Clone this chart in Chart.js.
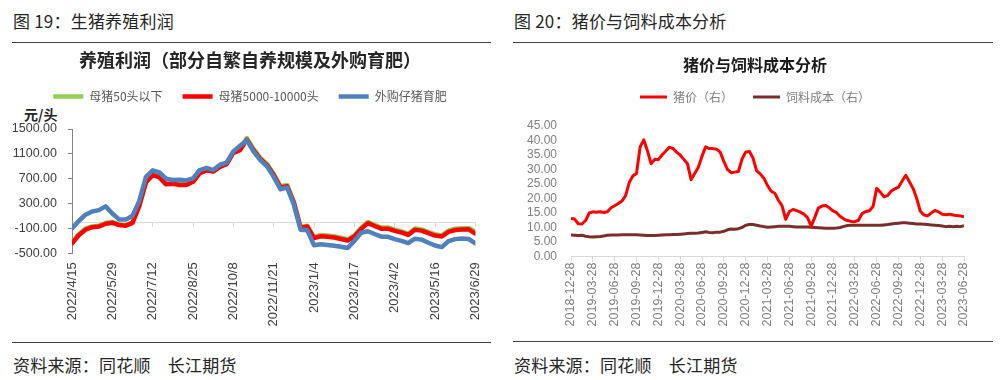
<!DOCTYPE html>
<html><head><meta charset="utf-8">
<script src="https://cdn.jsdelivr.net/npm/chart.js@4.4.0/dist/chart.umd.min.js"></script>
<style>
body{margin:0;background:#fff;width:1000px;height:380px;position:relative;overflow:hidden;font-family:'Noto Sans CJK SC',sans-serif;}
.hdr{position:absolute;font-size:17px;color:#262626;line-height:20px;white-space:nowrap;letter-spacing:0.2px;}
.rule{position:absolute;height:1px;background:#404040;}
canvas{position:absolute;}
</style></head><body>
<div class="hdr" style="left:13px;top:11px">图 19：生猪养殖利润</div>
<div class="hdr" style="left:514px;top:11px">图 20：猪价与饲料成本分析</div>
<div class="rule" style="left:12px;top:42px;width:479px"></div>
<div class="rule" style="left:513px;top:42px;width:480px"></div>
<div class="hdr" style="left:24px;top:104px;font-size:14px;font-weight:bold;letter-spacing:0">元/头</div>
<canvas id="c1" width="500" height="295" style="left:0;top:45px"></canvas>
<canvas id="c2" width="500" height="295" style="left:500px;top:45px"></canvas>
<div class="rule" style="left:12px;top:342px;width:479px"></div>
<div class="rule" style="left:513px;top:341px;width:480px"></div>
<div class="hdr" style="left:13px;top:355px">资料来源：同花顺　长江期货</div>
<div class="hdr" style="left:514px;top:355px">资料来源：同花顺　长江期货</div>
<script>
// ---------- Left chart data ----------
const leftTickLabels = ['2022/4/15','2022/5/29','2022/7/12','2022/8/25','2022/10/8','2022/11/21','2023/1/4','2023/2/17','2023/4/2','2023/5/16','2023/6/29'];
const sowSmall = [-330,-195,-105,-68,-55,-12,5,-35,-45,0,270,650,770,730,620,630,610,610,660,800,845,825,900,950,1130,1175,1355,1180,1040,940,780,580,600,330,-75,-55,-235,-205,-215,-225,-250,-275,-210,-90,5,-40,-85,-85,-120,-145,-185,-100,-115,-155,-195,-210,-135,-105,-98,-95,-150];
const sowLarge = [-340,-210,-120,-80,-70,-25,-8,-45,-55,-10,260,640,760,720,610,620,600,600,650,790,835,815,890,935,1115,1160,1330,1160,1020,920,760,560,580,310,-90,-70,-255,-225,-235,-245,-270,-295,-230,-110,-15,-60,-104,-104,-140,-165,-205,-120,-135,-175,-215,-230,-155,-125,-118,-115,-185];
const purchased = [-100,20,120,172,195,255,140,45,42,105,340,730,835,800,700,680,685,672,705,840,875,840,925,960,1140,1230,1320,1140,1000,900,730,530,560,280,-120,-130,-370,-355,-365,-380,-395,-415,-300,-170,-145,-190,-233,-235,-272,-300,-335,-265,-280,-330,-375,-400,-305,-272,-262,-270,-340];
const leftSeriesNames = ['母猪50头以下','母猪5000-10000头','外购仔猪育肥'];

// ---------- Right chart data ----------
const rightTickLabels = ['2018-12-28','2019-03-28','2019-06-28','2019-09-28','2019-12-28','2020-03-28','2020-06-28','2020-09-28','2020-12-28','2021-03-28','2021-06-28','2021-09-28','2021-12-28','2022-03-28','2022-06-28','2022-09-28','2022-12-28','2023-03-28','2023-06-28'];
const hogPrice = [13.1,12.9,11.3,11.2,12.4,15.0,15.4,15.3,15.4,15.2,15.4,16.8,17.5,18.3,19.1,21.0,25.5,27.8,28.6,37.8,40.2,36.5,32.0,33.5,33.4,35.0,36.3,37.7,37.3,36.0,35.0,33.5,32.0,26.5,28.6,30.8,34.6,37.8,37.2,37.2,37.0,36.0,32.8,30.0,28.9,29.1,29.3,33.6,36.0,36.3,34.0,29.6,28.5,27.0,24.5,22.5,21.8,19.4,17.5,12.8,15.5,16.2,15.8,15.3,14.6,13.4,10.5,13.5,16.8,17.4,17.6,16.8,15.7,15.1,13.8,12.9,12.4,12.1,12.0,12.5,14.8,15.5,15.8,17.2,23.5,22.2,20.6,21.0,22.6,23.3,23.9,26.0,28.0,25.8,23.5,20.0,15.6,14.3,14.0,15.0,15.9,15.4,14.6,14.4,14.6,14.3,14.1,14.0,13.7];
const feedCost = [7.4,7.3,7.2,7.3,7.0,6.8,6.7,6.8,6.9,7.1,7.3,7.4,7.4,7.4,7.5,7.5,7.5,7.5,7.5,7.4,7.3,7.2,7.2,7.2,7.3,7.4,7.5,7.5,7.6,7.6,7.7,7.8,7.9,8.0,8.0,8.1,8.3,8.5,8.3,8.2,8.4,8.4,8.7,9.2,9.5,9.4,9.6,10.0,10.8,11.0,11.0,10.8,10.5,10.3,10.1,10.2,10.3,10.4,10.4,10.4,10.4,10.3,10.2,10.2,10.2,10.2,10.1,10.0,9.9,9.8,9.7,9.7,9.7,9.8,10.0,10.4,10.7,10.8,10.8,10.8,10.8,10.8,10.8,10.8,10.8,10.8,10.9,11.0,11.2,11.4,11.5,11.6,11.6,11.5,11.4,11.2,11.2,11.1,11.0,10.9,10.8,10.7,10.5,10.3,10.4,10.3,10.4,10.3,10.6];
const rightSeriesNames = ['猪价（右）','饲料成本（右）'];

const POINTS_PER_TICK = 6;
const toXY = arr => arr.map((v, i) => ({x: i, y: v}));

Chart.defaults.font.family = "'Liberation Sans', 'Noto Sans CJK SC', sans-serif";
Chart.defaults.animation = false;

const legendGap = {
  id: 'legendGap',
  beforeInit(chart, args, opts) {
    const legend = chart.legend;
    const orig = legend.fit;
    legend.fit = function () { orig.call(this); this.height += (opts.extra || 0); };
  }
};

// ---------- Left chart ----------
new Chart(document.getElementById('c1'), {
  type: 'line',
  data: {
    datasets: [
      {label: leftSeriesNames[2], data: toXY(purchased), borderColor: '#4F81BD', backgroundColor: '#4F81BD', borderWidth: 4.5},
      {label: leftSeriesNames[1], data: toXY(sowLarge), borderColor: '#FF0000', backgroundColor: '#FF0000', borderWidth: 4.5},
      {label: leftSeriesNames[0], data: toXY(sowSmall), borderColor: '#92D050', backgroundColor: '#92D050', borderWidth: 4.5}
    ]
  },
  options: {
    responsive: false, devicePixelRatio: 1,
    elements: {point: {radius: 0}, line: {tension: 0, borderJoinStyle: 'round', borderCapStyle: 'round'}},
    layout: {padding: {left: 13, right: 13, top: 0, bottom: 0}},
    plugins: {
      tooltip: {enabled: false},
      title: {display: true, text: '养殖利润（部分自繁自养规模及外购育肥）', color: '#262626',
        font: {family: "'Noto Sans CJK SC', sans-serif", size: 18, weight: 'bold', lineHeight: 1.2},
        padding: {top: 4, bottom: 0}},
      legend: {display: true, reverse: true,
        labels: {usePointStyle: true, pointStyle: 'line', pointStyleWidth: 30, padding: 20, color: '#595959',
          font: {family: "'Noto Sans CJK SC', sans-serif", size: 12}}},
      legendGap: {extra: 16.4}
    },
    scales: {
      x: {type: 'linear', position: 'bottom', min: 0, max: (leftTickLabels.length - 1) * POINTS_PER_TICK,
        border: {display: false}, grid: {display: false, drawTicks: false},
        ticks: {stepSize: POINTS_PER_TICK, autoSkip: false, maxRotation: 90, minRotation: 90, padding: 9,
          color: '#404040', font: {size: 13},
          callback: v => leftTickLabels[Math.round(v / POINTS_PER_TICK)]},
        afterFit: s => { s.height = 86.7; }},
      x0: {type: 'linear', axis: 'x', position: {y: 0}, min: 0, max: (leftTickLabels.length - 1) * POINTS_PER_TICK,
        border: {display: true, color: '#d9d9d9'},
        grid: {display: true, drawOnChartArea: false, drawTicks: true, tickLength: 4, color: '#d9d9d9'},
        ticks: {stepSize: POINTS_PER_TICK, display: false}},
      y: {type: 'linear', position: 'left', min: -500, max: 1500,
        border: {display: true, color: '#868686'},
        grid: {display: true, drawOnChartArea: false, drawTicks: true, tickLength: 4, color: '#868686'},
        ticks: {stepSize: 400, autoSkip: false, padding: 11, color: '#404040', font: {size: 12.5}, callback: v => v.toFixed(2)},
        afterFit: s => { s.width = 59; }}
    }
  },
  plugins: [legendGap]
});

// ---------- Right chart ----------
new Chart(document.getElementById('c2'), {
  type: 'line',
  data: {
    datasets: [
      {label: rightSeriesNames[0], data: toXY(hogPrice), borderColor: '#FF0000', backgroundColor: '#FF0000', borderWidth: 3},
      {label: rightSeriesNames[1], data: toXY(feedCost), borderColor: '#7A2E2B', backgroundColor: '#7A2E2B', borderWidth: 3}
    ]
  },
  options: {
    responsive: false, devicePixelRatio: 1,
    elements: {point: {radius: 0}, line: {tension: 0, borderJoinStyle: 'round'}},
    layout: {padding: {left: 46, right: 36, top: 0, bottom: 0}},
    plugins: {
      tooltip: {enabled: false},
      title: {display: true, text: '猪价与饲料成本分析', color: '#1a1a1a',
        font: {family: "'Noto Sans CJK SC', sans-serif", size: 16, weight: 'bold', lineHeight: 0.75},
        padding: {top: 14, bottom: 0}},
      legend: {display: true,
        labels: {usePointStyle: true, pointStyle: 'line', pointStyleWidth: 27, padding: 20, color: '#7f7f7f',
          font: {family: "'Noto Sans CJK SC', sans-serif", size: 12}}},
      legendGap: {extra: 13}
    },
    scales: {
      x: {type: 'linear', position: 'bottom', min: 0, max: (rightTickLabels.length - 1) * POINTS_PER_TICK,
        border: {display: true, color: '#d9d9d9'},
        grid: {display: true, drawOnChartArea: false, drawTicks: true, tickLength: 5, color: '#d9d9d9'},
        ticks: {stepSize: POINTS_PER_TICK, autoSkip: false, maxRotation: 90, minRotation: 90, padding: 1,
          color: '#808080', font: {size: 12.5},
          callback: v => rightTickLabels[Math.round(v / POINTS_PER_TICK)]},
        afterFit: s => { s.height = 83.5; }},
      y: {type: 'linear', position: 'left', min: 0, max: 45,
        border: {display: false},
        grid: {display: false, drawTicks: false},
        ticks: {stepSize: 5, autoSkip: false, mirror: true, crossAlign: 'far', padding: -44, color: '#808080', font: {size: 12},
          callback: v => v.toFixed(2)},
        afterFit: s => { s.width = 25; }}
    }
  },
  plugins: [legendGap]
});
</script>
</body></html>
